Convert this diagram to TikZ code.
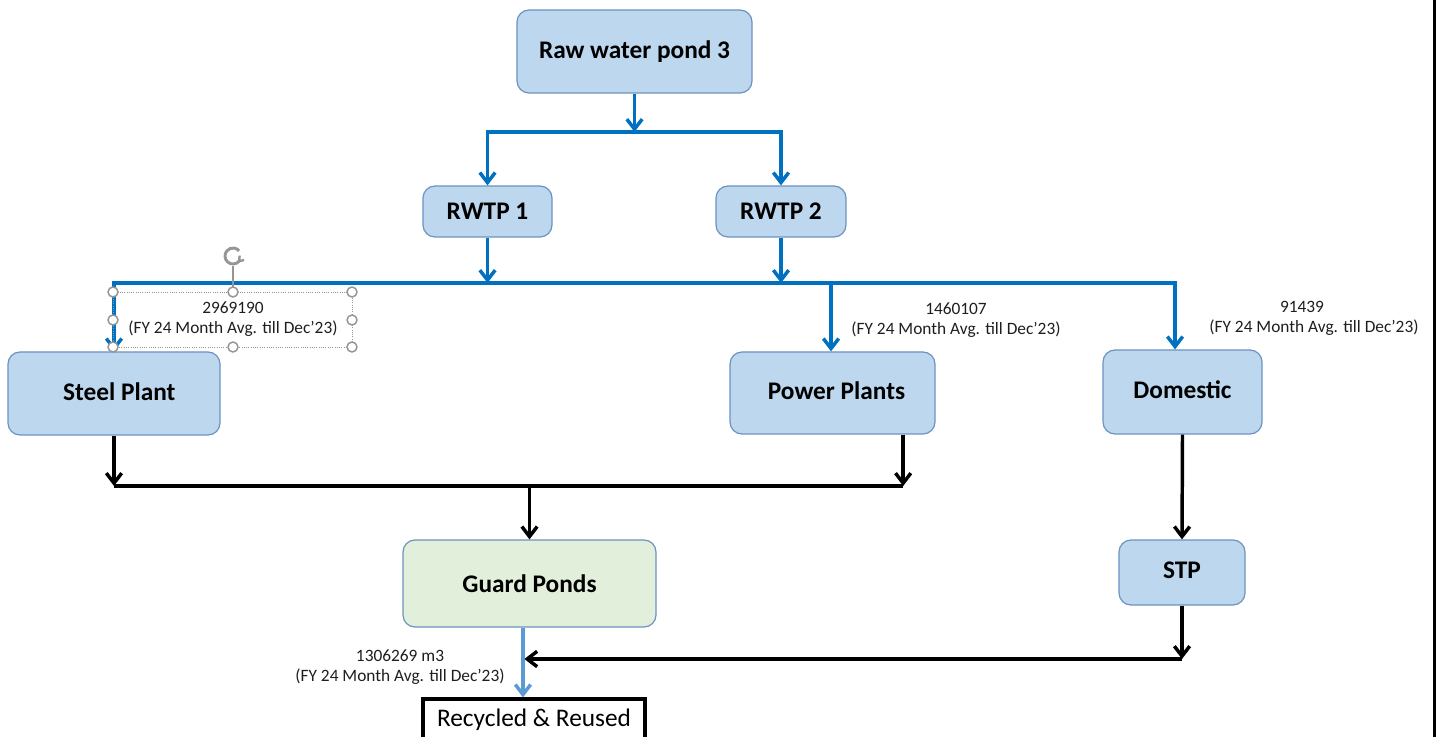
\documentclass[tikz,border=0pt]{standalone}
\usepackage{fontspec}
\setmainfont{Carlito}
\usetikzlibrary{arrows.meta,calc}
\definecolor{flow}{RGB}{0,112,192}
\definecolor{boxfill}{RGB}{189,215,238}
\definecolor{boxline}{RGB}{108,146,194}
\definecolor{greenfill}{RGB}{226,239,218}
\definecolor{lightflow}{RGB}{91,155,213}
\definecolor{handle}{RGB}{150,150,150}
\definecolor{txt}{RGB}{30,30,30}
\begin{document}
\begin{tikzpicture}[x=0.75pt,y=-0.75pt,
  box/.style={draw=boxline, fill=boxfill, line width=0.9pt, rounded corners=9pt,
    font=\bfseries\fontsize{19}{22}\selectfont, inner sep=0pt, text=black},
  lbl/.style={font=\fontsize{13}{15}\selectfont, align=center, text=txt, inner sep=0pt},
  tip/.style={-{Straight Barb[length=7.5pt,width=11.5pt]}},
  bflow/.style={draw=flow, line width=2.6pt, tip},
  bline/.style={draw=black, line width=2.6pt},
  barrow/.style={draw=black, line width=2.6pt, tip},
  lflow/.style={draw=lightflow, line width=2.6pt, tip},
  hnd/.style={draw=handle, fill=white, line width=1.1pt}
]
\useasboundingbox (0,0) rectangle (1438,737);
\clip (0,0) rectangle (1438,737);

% boxes
\node[box, minimum width=235*0.75pt, minimum height=83*0.75pt] (raw) at (634.5,51.5) {Raw water pond 3};
\node[box, minimum width=129*0.75pt, minimum height=51*0.75pt] (rwtp1) at (487.5,211.5) {RWTP 1};
\node[box, minimum width=130*0.75pt, minimum height=51*0.75pt] (rwtp2) at (781,211.5) {RWTP 2};
\node[box, minimum width=212*0.75pt, minimum height=83*0.75pt] (steel) at (114,393.5) {\hspace*{8pt}Steel Plant\vphantom{g}\\[-4pt]\mbox{}};
\node[box, minimum width=205*0.75pt, minimum height=82*0.75pt] (power) at (832.5,393) {\hspace*{6pt}Power Plants\vphantom{g}\\[-4pt]\mbox{}};
\node[box, minimum width=159*0.75pt, minimum height=84*0.75pt] (domestic) at (1182.5,392) {Domestic\vphantom{g}\\[0pt]\mbox{}};
\node[box, fill=greenfill, minimum width=253*0.75pt, minimum height=87*0.75pt] (guard) at (529.5,583.5) {Guard Ponds};
\node[box, minimum width=126*0.75pt, minimum height=65*0.75pt] (stp) at (1182,572.5) {STP\vphantom{g}\\[-6pt]\mbox{}};
\node[draw=black, fill=white, line width=2.4pt, minimum width=222*0.75pt, minimum height=42*0.75pt,
  inner sep=0pt, font=\fontsize{19}{22}\selectfont] (rec) at (534,720) {Recycled \& Reused};

% junction coordinates
\coordinate (j1) at (raw.south |- 0,132);
\coordinate (bus) at (0,283);
\coordinate (bbus) at (0,486);
\coordinate (ret) at (0,659);
\coordinate (domin) at ([xshift=-5.6pt]domestic.north);
\coordinate (pwin) at ([xshift=-1.1pt]power.north);
\coordinate (pwout) at ([xshift=53pt]power.south);
\coordinate (gout) at ([xshift=-4.9pt]guard.south);

% blue flows
\draw[bflow] (raw.south) -- (j1);
\draw[bflow] (j1) -| (rwtp1.north);
\draw[bflow] (j1) -| (rwtp2.north);
\draw[bflow] (rwtp1.south) -- (rwtp1.south |- bus);
\draw[bflow] (rwtp2.south) -- (rwtp2.south |- bus);
\draw[bflow] (rwtp2.south |- bus) -| (steel.north);
\draw[bflow] (rwtp1.south |- bus) -| (domin);
\draw[bflow] (pwin |- bus) -- (pwin);

% black flows
\draw[barrow] (steel.south) -- (steel.south |- bbus);
\draw[barrow] (pwout) -- (pwout |- bbus);
\draw[bline] (steel.south |- bbus) -- (pwout |- bbus);
\draw[barrow] (guard.north |- bbus) -- (guard.north);
\draw[barrow] (domestic.south) -- (stp.north);
\draw[barrow] (stp.south) -- (stp.south |- ret);
\draw[barrow] (stp.south |- ret) -- ([xshift=1pt]gout |- ret);
\draw[lflow] (gout) -- (gout |- rec.north);

% labels
\node[lbl] (l1) at (233,319.5) {2969190\\(FY 24 Month Avg. till Dec’23)};
\node[lbl] (l2) at (956,320.5) {1460107\\(FY 24 Month Avg. till Dec’23)};
\node[lbl] (l3) at (1314,318.5) {91439\hspace*{18pt}\\(FY 24 Month Avg. till Dec’23)};
\node[lbl] (l4) at (400,667) {1306269 m3\\(FY 24 Month Avg. till Dec’23)};

% selection frame (editor handles)
\draw[handle, densely dotted, line width=0.7pt] (113,292) rectangle (352,347);
\draw[handle, line width=1pt] (233,292) -- (233,266);
\draw[handle, line width=2.2pt] (233,256) ++(40:8) arc[start angle=40, end angle=320, radius=8];
\draw[handle, line width=1.8pt] (233,256) ++(40:8) ++(5,-1) -- ++(-5,1) -- ++(0.5,-5.5);
\foreach \p in {(113,292),(233,292),(352,292),(113,320),(352,320),(113,347),(233,347),(352,347)}
  \draw[hnd] \p circle[radius=5];

% right frame edge
\draw[black, line width=2.2pt] (1434.5,0) -- (1434.5,737);
\end{tikzpicture}
\end{document}
